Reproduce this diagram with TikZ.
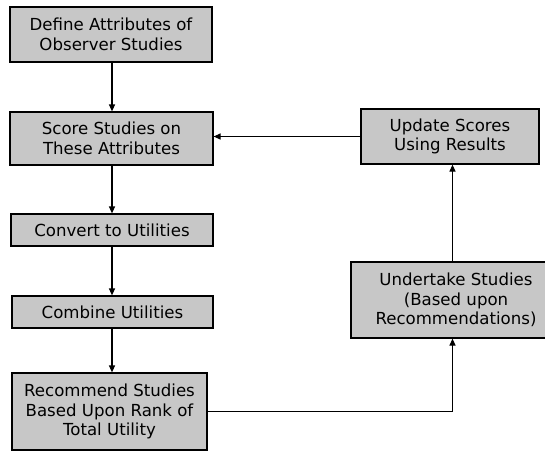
\documentclass[tikz,border=0pt]{standalone}
\usepackage{fontspec}
\setmainfont{DejaVu Sans}
\usetikzlibrary{arrows.meta}
\begin{document}
\begin{tikzpicture}[x=1pt,y=-1pt,
  stepbox/.style={draw=black,line width=1.2pt,fill=black!22,align=center,
    font=\fontsize{16.6}{19.5}\selectfont,inner sep=0pt,anchor=center},
  flow/.style={draw=black,line width=1.2pt,-{Triangle[length=7pt,width=6pt]}}]
\useasboundingbox (0,0) rectangle (545,452);
\node[stepbox,minimum width=202pt,minimum height=55pt] (b1) at (111,34.5) {Define Attributes of\\Observer Studies};
\node[stepbox,minimum width=203pt,minimum height=53pt] (b2) at (111.5,138.5) {Score Studies on\\These Attributes};
\node[stepbox,minimum width=202pt,minimum height=32pt] (b3) at (112,230) {Convert to Utilities};
\node[stepbox,minimum width=201pt,minimum height=32pt] (b4) at (112.5,312) {Combine Utilities};
\node[stepbox,minimum width=195pt,minimum height=77pt] (b5) at (109.5,411.5) {Recommend Studies\\Based Upon Rank of\\Total Utility};
\node[stepbox,minimum width=210pt,minimum height=76pt] (ut) at (456,300) {Undertake Studies\\(Based upon\\Recommendations)};
\node[stepbox,minimum width=178pt,minimum height=55pt] (upd) at (450,136.5) {Update Scores\\Using Results};
\coordinate (ax) at (112,0);
\coordinate (rx) at (452.5,0);
\draw[flow] (b1.south -| ax) -- (b2.north -| ax);
\draw[flow] (b2.south -| ax) -- (b3.north -| ax);
\draw[flow] (b3.south -| ax) -- (b4.north -| ax);
\draw[flow] (b4.south -| ax) -- (b5.north -| ax);
\draw[flow] (b5.east) -| (ut.south -| rx);
\draw[flow] (ut.north -| rx) -- (upd.south -| rx);
\draw[flow] (upd.west) -- (upd.west -| b2.east);
\end{tikzpicture}
\end{document}
